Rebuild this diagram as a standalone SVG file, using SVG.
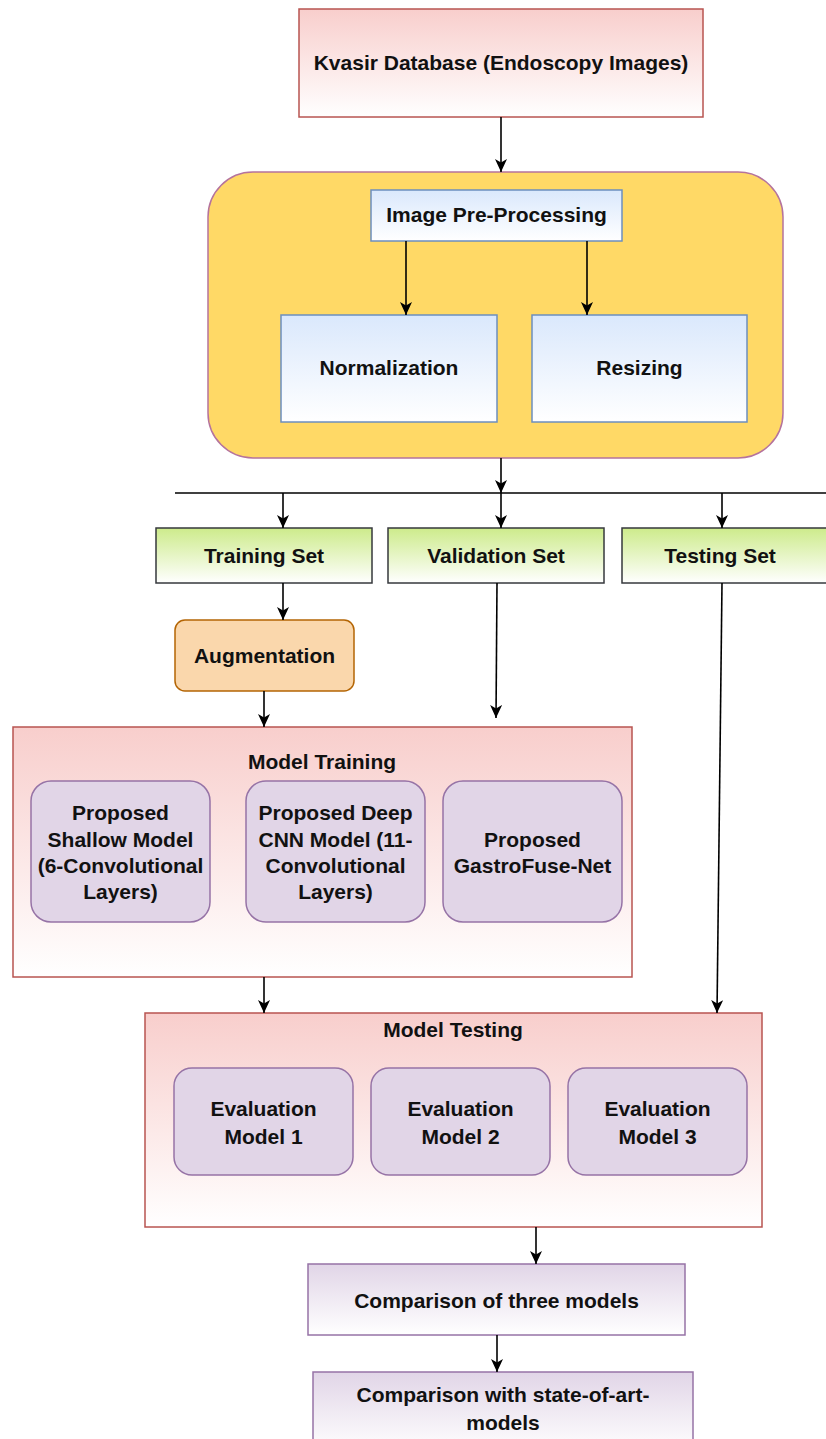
<svg xmlns="http://www.w3.org/2000/svg" width="826" height="1439" viewBox="0 0 826 1439">
<defs>
<linearGradient id="gRed" x1="0" y1="0" x2="0" y2="1"><stop offset="0" stop-color="#f8cecc"/><stop offset="1" stop-color="#ffffff"/></linearGradient>
<linearGradient id="gBlue" x1="0" y1="0" x2="0" y2="1"><stop offset="0" stop-color="#dae8fc"/><stop offset="1" stop-color="#ffffff"/></linearGradient>
<linearGradient id="gGreen" x1="0" y1="0" x2="0" y2="1"><stop offset="0" stop-color="#cdeb8b"/><stop offset="1" stop-color="#ffffff"/></linearGradient>
<linearGradient id="gPurple" x1="0" y1="0" x2="0" y2="1"><stop offset="0" stop-color="#e1d5e7"/><stop offset="1" stop-color="#ffffff"/></linearGradient>
<marker id="arr" markerUnits="userSpaceOnUse" markerWidth="14" markerHeight="12" refX="13" refY="6" orient="auto">
<path d="M0,0 L13,6 L0,12 L3.5,6 z" fill="#000"/>
</marker>
</defs>
<style>
text{font-family:"Liberation Sans",Arial,Helvetica,sans-serif;font-weight:bold;font-size:21px;fill:#111;text-anchor:middle}
.red{fill:url(#gRed);stroke:#b85450;stroke-width:1.5}
.blue{fill:url(#gBlue);stroke:#6c8ebf;stroke-width:1.5}
.green{fill:url(#gGreen);stroke:#36393d;stroke-width:1.5}
.purp{fill:#e1d5e7;stroke:#9673a6;stroke-width:1.5}
.purpg{fill:url(#gPurple);stroke:#9673a6;stroke-width:1.5}
.c{fill:none;stroke:#000;stroke-width:1.6}
.a{marker-end:url(#arr)}
</style>

<g id="kvasir"><rect class="red" x="299" y="9" width="404" height="108"/><text x="501" y="70">Kvasir Database (Endoscopy Images)</text></g>

<g id="preproc-group"><rect x="208" y="172" width="575" height="286" rx="45" ry="45" fill="#ffd966" stroke="#b5739d" stroke-width="1.5"/></g>
<g id="preproc"><rect class="blue" x="371" y="190" width="251" height="51"/><text x="496.5" y="222">Image Pre-Processing</text></g>
<g id="normalization"><rect class="blue" x="281" y="315" width="216" height="107"/><text x="389" y="375">Normalization</text></g>
<g id="resizing"><rect class="blue" x="532" y="315" width="215" height="107"/><text x="639.5" y="375">Resizing</text></g>

<g id="training-set"><rect class="green" x="156" y="528" width="216" height="55"/><text x="264" y="563">Training Set</text></g>
<g id="validation-set"><rect class="green" x="388" y="528" width="216" height="55"/><text x="496" y="563">Validation Set</text></g>
<g id="testing-set"><rect class="green" x="622" y="528" width="210" height="55"/><text x="720" y="563">Testing Set</text></g>

<g id="augmentation"><rect x="175" y="620" width="179" height="71" rx="10" ry="10" fill="#fad7ac" stroke="#b46504" stroke-width="1.5"/><text x="264.5" y="663">Augmentation</text></g>

<g id="model-training"><rect class="red" x="13" y="727" width="619" height="250"/><text x="322" y="769">Model Training</text></g>
<g id="shallow"><rect class="purp" x="31" y="781" width="179" height="141" rx="20" ry="20"/><text x="120.5" y="820">Proposed</text><text x="120.5" y="847">Shallow Model</text><text x="120.5" y="873">(6-Convolutional</text><text x="120.5" y="899">Layers)</text></g>
<g id="deep"><rect class="purp" x="246" y="781" width="179" height="141" rx="20" ry="20"/><text x="335.5" y="820">Proposed Deep</text><text x="335.5" y="847">CNN Model (11-</text><text x="335.5" y="873">Convolutional</text><text x="335.5" y="899">Layers)</text></g>
<g id="gastrofuse"><rect class="purp" x="443" y="781" width="179" height="141" rx="20" ry="20"/><text x="532.5" y="847">Proposed</text><text x="532.5" y="873">GastroFuse-Net</text></g>

<g id="model-testing"><rect class="red" x="145" y="1013" width="617" height="214"/><text x="453" y="1037">Model Testing</text></g>
<g id="eval1"><rect class="purp" x="174" y="1068" width="179" height="107" rx="18" ry="18"/><text x="263.5" y="1116">Evaluation</text><text x="263.5" y="1144">Model 1</text></g>
<g id="eval2"><rect class="purp" x="371" y="1068" width="179" height="107" rx="18" ry="18"/><text x="460.5" y="1116">Evaluation</text><text x="460.5" y="1144">Model 2</text></g>
<g id="eval3"><rect class="purp" x="568" y="1068" width="179" height="107" rx="18" ry="18"/><text x="657.5" y="1116">Evaluation</text><text x="657.5" y="1144">Model 3</text></g>

<g id="compare-three"><rect class="purpg" x="308" y="1264" width="377" height="71"/><text x="496.5" y="1308">Comparison of three models</text></g>
<g id="compare-sota"><rect class="purpg" x="313" y="1372" width="380" height="80"/><text x="503" y="1402">Comparison with state-of-art-</text><text x="503" y="1430">models</text></g>

<g id="connectors">
<line class="c a" x1="501" y1="117" x2="501" y2="172"/>
<line class="c a" x1="406" y1="241" x2="406" y2="315"/>
<line class="c a" x1="587" y1="241" x2="587" y2="315"/>
<line class="c a" x1="501" y1="458" x2="501" y2="493"/>
<line class="c" x1="175" y1="493" x2="826" y2="493"/>
<line class="c a" x1="283" y1="493" x2="283" y2="528"/>
<line class="c a" x1="501" y1="493" x2="501" y2="528"/>
<line class="c a" x1="722" y1="493" x2="722" y2="528"/>
<line class="c a" x1="283" y1="583" x2="283" y2="620"/>
<line class="c a" x1="497" y1="583" x2="496" y2="718"/>
<line class="c a" x1="264" y1="691" x2="264" y2="727"/>
<line class="c a" x1="722" y1="583" x2="717" y2="1013"/>
<line class="c a" x1="264" y1="977" x2="264" y2="1013"/>
<line class="c a" x1="536" y1="1227" x2="536" y2="1264"/>
<line class="c a" x1="497" y1="1335" x2="497" y2="1372"/>
</g>
</svg>
